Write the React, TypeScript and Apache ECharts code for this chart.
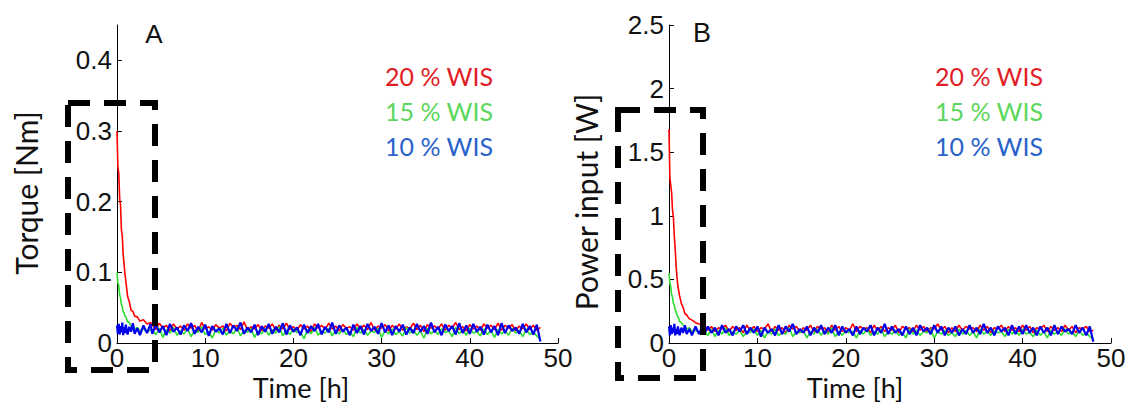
import React, { useEffect, useRef } from "react";
import * as echarts from "echarts";

// time samples [h]
const hoursEarly = [0, 0.1, 0.2, 0.3, 0.4, 0.5, 0.6, 0.7, 0.8, 0.9, 1.0, 1.2, 1.4, 1.6, 1.8, 2.0, 2.3, 2.6, 3.0, 3.4, 3.8];
const hoursLate = [
  4.0, 4.4, 4.8, 5.2, 5.6, 6.0, 6.4, 6.8, 7.2, 7.6,
  8.0, 8.4, 8.8, 9.2, 9.6, 10.0, 10.4, 10.8, 11.2, 11.6,
  12.0, 12.4, 12.8, 13.2, 13.6, 14.0, 14.4, 14.8, 15.2, 15.6,
  16.0, 16.4, 16.8, 17.2, 17.6, 18.0, 18.4, 18.8, 19.2, 19.6,
  20.0, 20.4, 20.8, 21.2, 21.6, 22.0, 22.4, 22.8, 23.2, 23.6,
  24.0, 24.4, 24.8, 25.2, 25.6, 26.0, 26.4, 26.8, 27.2, 27.6,
  28.0, 28.4, 28.8, 29.2, 29.6, 30.0, 30.4, 30.8, 31.2, 31.6,
  32.0, 32.4, 32.8, 33.2, 33.6, 34.0, 34.4, 34.8, 35.2, 35.6,
  36.0, 36.4, 36.8, 37.2, 37.6, 38.0, 38.4, 38.8, 39.2, 39.6,
  40.0, 40.4, 40.8, 41.2, 41.6, 42.0, 42.4, 42.8, 43.2, 43.6,
  44.0, 44.4, 44.8, 45.2, 45.6, 46.0, 46.4, 46.8, 47.2, 47.6,
  48.0,
];

// Torque [Nm]
const torque20 = [
  0.30, 0.25, 0.24, 0.205, 0.195, 0.16, 0.152, 0.125, 0.112, 0.098, 0.088, 0.066, 0.058, 0.046, 0.045, 0.038, 0.037, 0.031, 0.033, 0.027, 0.029,
  0.026, 0.019, 0.028, 0.021, 0.025, 0.017, 0.027, 0.020, 0.024, 0.018,
  0.027, 0.021, 0.025, 0.016, 0.029, 0.020, 0.023, 0.018, 0.026, 0.021,
  0.024, 0.017, 0.028, 0.022, 0.025, 0.019, 0.030, 0.018, 0.023, 0.020,
  0.026, 0.017, 0.024, 0.021, 0.027, 0.018, 0.025, 0.020, 0.028, 0.019,
  0.023, 0.018, 0.026, 0.020, 0.024, 0.016, 0.027, 0.021, 0.025, 0.019,
  0.028, 0.020, 0.024, 0.017, 0.026, 0.021, 0.023, 0.018, 0.027, 0.020,
  0.025, 0.019, 0.029, 0.018, 0.024, 0.021, 0.026, 0.017, 0.025, 0.020,
  0.027, 0.018, 0.023, 0.020, 0.028, 0.019, 0.025, 0.016, 0.026, 0.021,
  0.024, 0.020, 0.027, 0.018, 0.025, 0.021, 0.029, 0.019, 0.023, 0.017,
  0.026, 0.020, 0.024, 0.018, 0.027, 0.021, 0.025, 0.019, 0.028, 0.018,
  0.025, 0.021, 0.026, 0.017, 0.024, 0.020, 0.027, 0.019, 0.025, 0.018,
  0.022,
];
const torque15 = [
  0.10, 0.085, 0.082, 0.068, 0.064, 0.054, 0.052, 0.044, 0.043, 0.038, 0.037, 0.030, 0.029, 0.024, 0.025, 0.020, 0.022, 0.017, 0.020, 0.015, 0.019,
  0.018, 0.012, 0.021, 0.008, 0.019, 0.014, 0.022, 0.011, 0.017, 0.013,
  0.020, 0.009, 0.018, 0.015, 0.023, 0.012, 0.016, 0.007, 0.019, 0.014,
  0.021, 0.011, 0.017, 0.013, 0.022, 0.010, 0.018, 0.015, 0.020, 0.008,
  0.017, 0.013, 0.021, 0.011, 0.019, 0.014, 0.023, 0.010, 0.018, 0.012,
  0.020, 0.015, 0.016, 0.006, 0.019, 0.013, 0.022, 0.011, 0.017, 0.014,
  0.021, 0.010, 0.018, 0.013, 0.020, 0.012, 0.016, 0.009, 0.022, 0.014,
  0.019, 0.011, 0.017, 0.015, 0.021, 0.008, 0.018, 0.013, 0.020, 0.012,
  0.016, 0.010, 0.022, 0.014, 0.019, 0.011, 0.017, 0.007, 0.021, 0.013,
  0.018, 0.012, 0.020, 0.015, 0.017, 0.009, 0.022, 0.013, 0.019, 0.011,
  0.021, 0.014, 0.016, 0.010, 0.020, 0.012, 0.018, 0.008, 0.019, 0.013,
  0.017, 0.011, 0.021, 0.014, 0.018, 0.009, 0.020, 0.012, 0.016, 0.010,
  0.005,
];
const torque10 = [
  0.025, 0.013, 0.027, 0.012, 0.024, 0.015, 0.029, 0.011, 0.022, 0.014, 0.026, 0.012, 0.023, 0.016, 0.028, 0.013, 0.021, 0.011, 0.025, 0.014, 0.027,
  0.013, 0.026, 0.015, 0.024, 0.011, 0.027, 0.016, 0.022, 0.012, 0.025,
  0.017, 0.028, 0.013, 0.023, 0.015, 0.026, 0.010, 0.024, 0.016, 0.021,
  0.012, 0.027, 0.014, 0.025, 0.017, 0.029, 0.013, 0.022, 0.015, 0.026,
  0.011, 0.024, 0.016, 0.027, 0.013, 0.023, 0.015, 0.028, 0.012, 0.025,
  0.016, 0.022, 0.011, 0.026, 0.014, 0.024, 0.017, 0.027, 0.012, 0.023,
  0.015, 0.029, 0.013, 0.025, 0.016, 0.022, 0.011, 0.026, 0.014, 0.024,
  0.012, 0.027, 0.017, 0.023, 0.013, 0.028, 0.015, 0.025, 0.011, 0.024,
  0.016, 0.026, 0.012, 0.022, 0.014, 0.027, 0.016, 0.024, 0.013, 0.029,
  0.015, 0.023, 0.011, 0.026, 0.017, 0.024, 0.012, 0.028, 0.014, 0.025,
  0.013, 0.027, 0.016, 0.023, 0.012, 0.026, 0.015, 0.024, 0.011, 0.028,
  0.014, 0.025, 0.017, 0.022, 0.013, 0.027, 0.015, 0.024, 0.012, 0.026,
  0.002,
];

// Power input [W]
const power20 = [
  1.68, 1.30, 1.24, 1.18, 1.04, 0.99, 0.84, 0.74, 0.61, 0.52, 0.45, 0.37, 0.31, 0.28, 0.23, 0.22, 0.19, 0.18, 0.16, 0.15, 0.14,
  0.14, 0.10, 0.13, 0.09, 0.12, 0.11, 0.14, 0.09, 0.13, 0.10,
  0.12, 0.08, 0.14, 0.10, 0.13, 0.09, 0.12, 0.11, 0.15, 0.09,
  0.13, 0.10, 0.12, 0.08, 0.14, 0.11, 0.13, 0.09, 0.12, 0.10,
  0.14, 0.09, 0.13, 0.11, 0.12, 0.08, 0.14, 0.10, 0.13, 0.09,
  0.12, 0.10, 0.15, 0.09, 0.13, 0.11, 0.12, 0.08, 0.14, 0.10,
  0.13, 0.09, 0.12, 0.10, 0.14, 0.08, 0.13, 0.11, 0.12, 0.09,
  0.14, 0.10, 0.13, 0.09, 0.12, 0.11, 0.15, 0.10, 0.13, 0.08,
  0.12, 0.09, 0.14, 0.10, 0.13, 0.11, 0.12, 0.09, 0.14, 0.10,
  0.13, 0.08, 0.12, 0.11, 0.14, 0.09, 0.13, 0.10, 0.12, 0.09,
  0.14, 0.10, 0.13, 0.08, 0.12, 0.11, 0.14, 0.09, 0.13, 0.10,
  0.12, 0.09, 0.14, 0.10, 0.13, 0.08, 0.12, 0.11, 0.13, 0.09,
  0.10,
];
const power15 = [
  0.55, 0.47, 0.44, 0.38, 0.36, 0.31, 0.30, 0.26, 0.25, 0.22, 0.21, 0.17, 0.16, 0.14, 0.13, 0.11, 0.12, 0.09, 0.10, 0.08, 0.09,
  0.09, 0.06, 0.11, 0.05, 0.10, 0.07, 0.12, 0.06, 0.09, 0.07,
  0.10, 0.05, 0.09, 0.08, 0.11, 0.06, 0.10, 0.04, 0.09, 0.07,
  0.11, 0.06, 0.08, 0.07, 0.12, 0.05, 0.09, 0.08, 0.10, 0.04,
  0.09, 0.07, 0.11, 0.06, 0.10, 0.07, 0.12, 0.05, 0.09, 0.06,
  0.10, 0.08, 0.09, 0.04, 0.10, 0.07, 0.11, 0.06, 0.09, 0.07,
  0.11, 0.05, 0.09, 0.07, 0.10, 0.06, 0.08, 0.04, 0.11, 0.07,
  0.10, 0.06, 0.09, 0.08, 0.11, 0.04, 0.09, 0.07, 0.10, 0.06,
  0.08, 0.05, 0.11, 0.07, 0.10, 0.06, 0.09, 0.04, 0.11, 0.07,
  0.09, 0.06, 0.10, 0.08, 0.09, 0.05, 0.11, 0.07, 0.10, 0.06,
  0.11, 0.07, 0.08, 0.05, 0.10, 0.06, 0.09, 0.04, 0.10, 0.07,
  0.09, 0.06, 0.11, 0.07, 0.09, 0.05, 0.10, 0.06, 0.08, 0.05,
  0.03,
];
const power10 = [
  0.13, 0.06, 0.14, 0.07, 0.12, 0.08, 0.15, 0.06, 0.11, 0.07, 0.13, 0.06, 0.12, 0.08, 0.14, 0.07, 0.11, 0.06, 0.13, 0.07, 0.14,
  0.07, 0.13, 0.08, 0.12, 0.06, 0.14, 0.08, 0.11, 0.06, 0.13,
  0.09, 0.14, 0.07, 0.12, 0.08, 0.13, 0.05, 0.12, 0.08, 0.11,
  0.06, 0.14, 0.07, 0.13, 0.09, 0.15, 0.07, 0.11, 0.08, 0.13,
  0.06, 0.12, 0.08, 0.14, 0.07, 0.12, 0.08, 0.14, 0.06, 0.13,
  0.08, 0.11, 0.06, 0.13, 0.07, 0.12, 0.09, 0.14, 0.06, 0.12,
  0.08, 0.15, 0.07, 0.13, 0.08, 0.11, 0.06, 0.13, 0.07, 0.12,
  0.06, 0.14, 0.09, 0.12, 0.07, 0.14, 0.08, 0.13, 0.06, 0.12,
  0.08, 0.13, 0.06, 0.11, 0.07, 0.14, 0.08, 0.12, 0.07, 0.15,
  0.08, 0.12, 0.06, 0.13, 0.09, 0.12, 0.06, 0.14, 0.07, 0.13,
  0.07, 0.14, 0.08, 0.12, 0.06, 0.13, 0.08, 0.12, 0.06, 0.14,
  0.07, 0.13, 0.09, 0.11, 0.07, 0.14, 0.08, 0.12, 0.06, 0.13,
  0.01,
];

const legendLabels = ["20 % WIS", "15 % WIS", "10 % WIS"];
const torqueTicks = [0, 0.1, 0.2, 0.3, 0.4];
const powerTicks = [0, 0.5, 1, 1.5, 2, 2.5];
const timeTicks = [0, 10, 20, 30, 40, 50];

const hours = [...hoursEarly, ...hoursLate];
const toPairs = (vals: number[]) => hours.map((h, i) => [h, vals[i]]);

const lineColors = ["#ff0000", "#2ede2e", "#0000ee"];
const lineWidths = [1.6, 1.6, 2.2];
const legendColors = ["#e11d25", "#5cd65c", "#2a62c9"];
const tickFont = '"Liberation Sans", Arial, sans-serif';
const titleFont = 'Lato, "Open Sans", sans-serif';

export default function App() {
  const ref = useRef<HTMLDivElement>(null);
  useEffect(() => {
    if (!ref.current) return;
    const chart = echarts.init(ref.current, undefined, { renderer: "svg" });
    const axisCommon = {
      axisLine: { show: true, onZero: false, lineStyle: { color: "#000", width: 1 } },
      axisTick: { show: true, inside: true, length: 5, lineStyle: { color: "#000" } },
      splitLine: { show: false },
    };
    const xAxis = (gi: number) => ({
      type: "value",
      gridIndex: gi,
      min: 0,
      max: 50,
      interval: 10,
      ...axisCommon,
      axisTick: { ...axisCommon.axisTick, customValues: timeTicks },
      axisLabel: { customValues: timeTicks, fontFamily: tickFont, fontSize: 26, lineHeight: 26, color: "#111", margin: 2 },
    });
    const series: any[] = [];
    const sets = [
      [torque20, torque15, torque10],
      [power20, power15, power10],
    ];
    sets.forEach((group, gi) => {
      group.forEach((vals, si) => {
        series.push({
          type: "line",
          name: legendLabels[si] + (gi === 0 ? " torque" : " power"),
          xAxisIndex: gi,
          yAxisIndex: gi,
          data: toPairs(vals),
          showSymbol: false,
          symbol: "none",
          lineStyle: { color: lineColors[si], width: lineWidths[si] },
          z: 2 + si,
        });
      });
    });
    const legendText = (x: number) =>
      legendLabels.map((t, i) => ({
        type: "text",
        x,
        y: 76 + i * 35,
        z: 20,
        style: { text: t, font: `25px ${titleFont}`, fill: legendColors[i], align: "left", verticalAlign: "middle" },
      }));
    chart.setOption({
      animation: false,
      grid: [
        { left: 117, top: 25, width: 441, height: 318, containLabel: false, outerBoundsMode: "none" },
        { left: 669, top: 25, width: 442, height: 318, containLabel: false, outerBoundsMode: "none" },
      ],
      xAxis: [xAxis(0), xAxis(1)],
      yAxis: [
        {
          type: "value",
          gridIndex: 0,
          min: 0,
          max: 0.45,
          interval: 0.1,
          ...axisCommon,
          axisTick: { ...axisCommon.axisTick, customValues: torqueTicks },
          axisLabel: { customValues: torqueTicks, fontFamily: tickFont, fontSize: 26, color: "#111", margin: 5 },
        },
        {
          type: "value",
          gridIndex: 1,
          min: 0,
          max: 2.5,
          interval: 0.5,
          ...axisCommon,
          axisTick: { ...axisCommon.axisTick, customValues: powerTicks },
          axisLabel: { customValues: powerTicks, fontFamily: tickFont, fontSize: 26, color: "#111", margin: 5 },
        },
      ],
      series,
      graphic: [
        { type: "text", x: 154, y: 34, style: { text: "A", font: `26px ${tickFont}`, fill: "#111", align: "center", verticalAlign: "middle" } },
        { type: "text", x: 702, y: 33, style: { text: "B", font: `27px ${tickFont}`, fill: "#111", align: "center", verticalAlign: "middle" } },
        ...legendText(385),
        ...legendText(935),
        { type: "text", x: 301, y: 387, style: { text: "Time [h]", font: `27px ${titleFont}`, lineHeight: 27, fill: "#111", align: "center", verticalAlign: "middle" } },
        { type: "text", x: 855, y: 387, style: { text: "Time [h]", font: `27px ${titleFont}`, lineHeight: 27, fill: "#111", align: "center", verticalAlign: "middle" } },
        { type: "text", x: 26, y: 193, rotation: Math.PI / 2, style: { text: "Torque [Nm]", font: `30px ${titleFont}`, fill: "#111", align: "center", verticalAlign: "middle" } },
        { type: "text", x: 586, y: 202, rotation: Math.PI / 2, style: { text: "Power input [W]", font: `30px ${titleFont}`, fill: "#111", align: "center", verticalAlign: "middle" } },
        { type: "rect", z: 30, shape: { x: 68, y: 103, width: 87, height: 267 }, style: { fill: "none", stroke: "#000", lineWidth: 6, lineDash: [22, 14] } },
        { type: "rect", z: 30, shape: { x: 618, y: 110, width: 85, height: 268 }, style: { fill: "none", stroke: "#000", lineWidth: 6, lineDash: [22, 14] } },
      ],
    });
    return () => chart.dispose();
  }, []);
  return <div ref={ref} style={{ position: "fixed", left: 0, top: 0, width: 1128, height: 403, background: "#fff" }} />;
}
